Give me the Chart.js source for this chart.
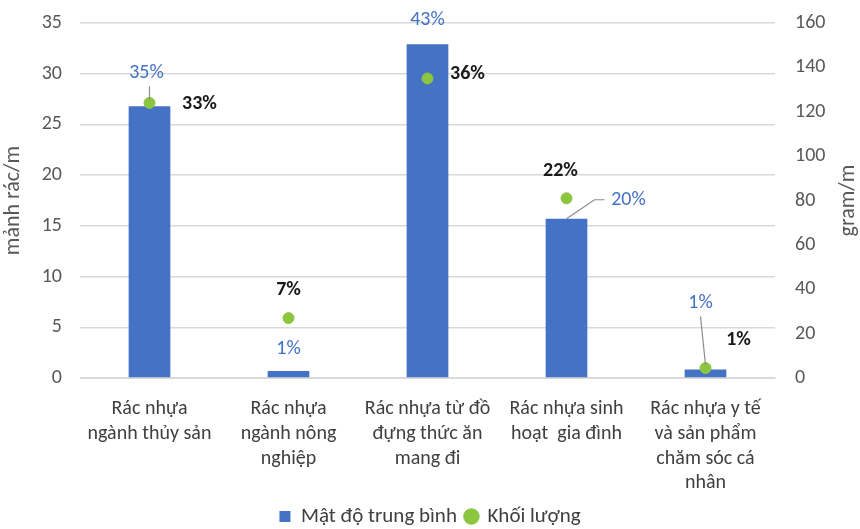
<!DOCTYPE html>
<html>
<head>
<meta charset="utf-8">
<script src="https://cdn.jsdelivr.net/npm/chart.js@4.4.1/dist/chart.umd.min.js"></script>
<style>
  html, body { margin: 0; padding: 0; background: #fff; }
  #wrap { width: 860px; height: 529px; }
</style>
</head>
<body>
<div id="wrap"><canvas id="chart"></canvas></div>
<script>
const categories = [
  ['Rác nhựa', 'ngành thủy sản'],
  ['Rác nhựa', 'ngành nông', 'nghiệp'],
  ['Rác nhựa từ đồ', 'đựng thức ăn', 'mang đi'],
  ['Rác nhựa sinh', 'hoạt  gia đình'],
  ['Rác nhựa y tế', 'và sản phẩm', 'chăm sóc cá', 'nhân'],
]
const density = [26.8, 0.7, 32.9, 15.7, 0.85]
const mass = [124, 27, 135, 81, 4.5]
const densityShare = ['35%', '1%', '43%', '20%', '1%']
const massShare = ['33%', '7%', '36%', '22%', '1%']

const FONT = "Carlito, 'Noto Sans', sans-serif"
const BLUE = '#4472C4'
const GREEN = '#8CC63F'

// label offsets from the mark (styling only)
const barLabelOffsets = [[-3, -33], [0, -22], [0, -24], [62, -19], [-5, -66]]
const pointLabelOffsets = [[50, 1], [0, -28], [40, -4], [-6, -27], [33, -28]]

const labelPlugin = {
  id: 'shareLabels',
  afterDatasetsDraw(chart) {
    const ctx = chart.ctx
    const bars = chart.getDatasetMeta(0).data
    const pts = chart.getDatasetMeta(1).data
    ctx.save()
    ctx.textAlign = 'center'
    ctx.textBaseline = 'middle'

    // leader lines
    ctx.strokeStyle = '#8c8c8c'
    ctx.lineWidth = 1.2
    const b0 = bars[0], b3 = bars[3], b4 = bars[4]
    ctx.beginPath()
    ctx.moveTo(b0.x, b0.y + barLabelOffsets[0][1] + 13)
    ctx.lineTo(b0.x, b0.y - 6)
    const lx = b3.x + barLabelOffsets[3][0], ly = b3.y + barLabelOffsets[3][1]
    ctx.moveTo(lx - 24, ly)
    ctx.lineTo(lx - 34, ly)
    ctx.lineTo(b3.x, b3.y)
    ctx.moveTo(b4.x + barLabelOffsets[4][0], b4.y + barLabelOffsets[4][1] + 13)
    ctx.lineTo(pts[4].x, pts[4].y - 3)
    ctx.stroke()

    ctx.font = '20px ' + FONT
    ctx.fillStyle = BLUE
    bars.forEach((b, i) => {
      const [dx, dy] = barLabelOffsets[i]
      ctx.fillText(densityShare[i], b.x + dx, b.y + dy)
    })
    ctx.font = 'bold 20px ' + FONT
    ctx.fillStyle = '#1a1a1a'
    pts.forEach((p, i) => {
      const [dx, dy] = pointLabelOffsets[i]
      ctx.fillText(massShare[i], p.x + dx, p.y + dy)
    })

    // right axis title, reading bottom-to-top
    const r = chart.scales.y1
    ctx.translate(848, (r.top + r.bottom) / 2)
    ctx.rotate(-Math.PI / 2)
    ctx.font = '22px ' + FONT
    ctx.fillStyle = '#595959'
    ctx.fillText('gram/m', 0, 0)
    ctx.restore()
  }
}

new Chart(document.getElementById('chart'), {
  type: 'bar',
  data: {
    labels: categories,
    datasets: [
      {
        type: 'bar',
        label: 'Mật độ trung bình',
        data: density,
        backgroundColor: BLUE,
        yAxisID: 'y',
        barPercentage: 0.6,
        categoryPercentage: 0.5,
        pointStyle: 'rect',
        order: 2,
      },
      {
        type: 'scatter',
        label: 'Khối lượng',
        data: mass,
        backgroundColor: GREEN,
        borderColor: GREEN,
        pointRadius: 5.5,
        pointStyle: 'circle',
        showLine: false,
        yAxisID: 'y1',
        order: 1,
      },
    ],
  },
  options: {
    responsive: true,
    maintainAspectRatio: false,
    animation: false,
    layout: { padding: { top: 23, left: 0, right: 0, bottom: 0 } },
    plugins: {
      tooltip: { enabled: false },
      legend: {
        position: 'bottom',
        maxHeight: 32,
        labels: {
          usePointStyle: true,
          boxWidth: 11,
          boxHeight: 11,
          padding: 9,
          color: '#404040',
          font: { family: FONT, size: 21 },
          sort: (a, b) => a.datasetIndex - b.datasetIndex,
        },
      },
    },
    scales: {
      x: {
        type: 'category',
        grid: { display: false },
        border: { color: '#d9d9d9' },
        ticks: {
          color: '#404040',
          font: { family: FONT, size: 20, lineHeight: 1.23 },
          maxRotation: 0,
          autoSkip: false,
          padding: 11,
        },
        afterFit(axis) { axis.height = 119 },
      },
      y: {
        position: 'left',
        min: 0,
        max: 35,
        ticks: { stepSize: 5, color: '#595959', padding: 18, font: { family: FONT, size: 20 } },
        grid: { color: '#d9d9d9', lineWidth: 1.5, drawTicks: false },
        border: { display: false },
        title: { display: true, text: 'mảnh rác/m', color: '#595959', font: { family: FONT, size: 22 }, padding: 0 },
        afterFit(axis) { axis.width = 80; axis.paddingTop = 0; axis.paddingBottom = 0 },
      },
      y1: {
        position: 'right',
        min: 0,
        max: 160,
        ticks: { stepSize: 20, color: '#595959', padding: 20, font: { family: FONT, size: 20 } },
        grid: { display: false, drawTicks: false },
        border: { display: false },
        title: { display: false },
        afterFit(axis) { axis.width = 85; axis.paddingTop = 0; axis.paddingBottom = 0 },
      },
    },
  },
  plugins: [labelPlugin],
})
</script>
</body>
</html>
